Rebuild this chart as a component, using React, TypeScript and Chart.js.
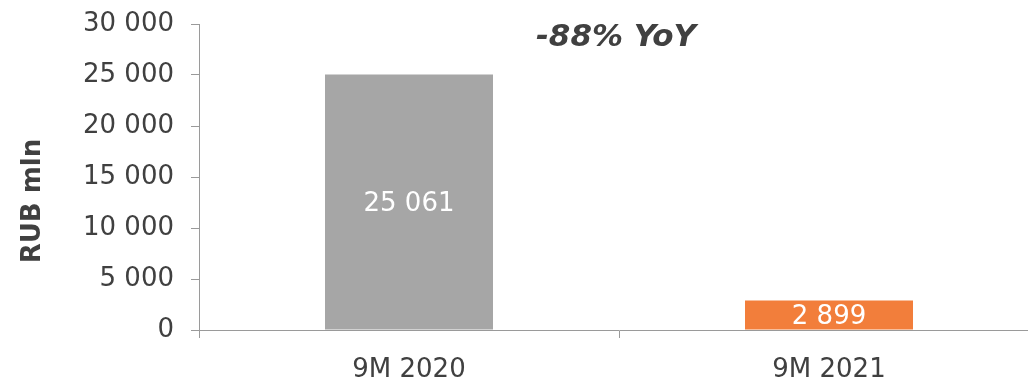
import React, { useEffect, useRef } from "react";
import { Chart, registerables } from "chart.js";

Chart.register(...registerables);

const categories: string[] = ["9M 2020", "9M 2021"];
const values: number[] = [25061, 2899];
const barColors: string[] = ["#a6a6a6", "#f27e3b"];
const yTicks: number[] = [0, 5000, 10000, 15000, 20000, 25000, 30000];
const yAxisTitle = "RUB mln";
const annotationText = "-88% YoY";

const TEXT = "#404040";
const AXIS = "#9a9a9a";
const FONT = "'DejaVu Sans', Verdana, sans-serif";

const fmt = (v: number) => String(v).replace(/\B(?=(\d{3})+(?!\d))/g, " ");

const overlayPlugin = {
  id: "overlay",
  afterDatasetsDraw(chart: any) {
    const ctx = chart.ctx;
    const meta = chart.getDatasetMeta(0);
    ctx.save();
    // data labels
    ctx.fillStyle = "#ffffff";
    ctx.font = `26px ${FONT}`;
    ctx.textAlign = "center";
    ctx.textBaseline = "middle";
    meta.data.forEach((el: any, i: number) => {
      const cy = (el.y + el.base) / 2 + 2;
      ctx.fillText(fmt(values[i]), el.x, cy);
    });
    // annotation
    const xs = chart.scales.x;
    const ca = chart.chartArea;
    const midX = (xs.getPixelForValue(0) + xs.getPixelForValue(1)) / 2 - 3;
    ctx.fillStyle = TEXT;
    ctx.font = `italic bold 31px ${FONT}`;
    ctx.fillText(annotationText, midX, ca.top + 14);
    // y axis title
    ctx.translate(33, (ca.top + ca.bottom) / 2 + 24);
    ctx.rotate(-Math.PI / 2);
    ctx.font = `bold 26px ${FONT}`;
    ctx.fillText(yAxisTitle, 0, 0);
    ctx.restore();
  },
};

export default function App() {
  const ref = useRef<HTMLCanvasElement | null>(null);
  useEffect(() => {
    if (!ref.current) return;
    document.body.style.overflow = "hidden";
    const chart = new Chart(ref.current, {
      type: "bar",
      data: {
        labels: categories,
        datasets: [
          {
            data: values,
            backgroundColor: barColors,
            borderWidth: 0,
            barPercentage: 0.4,
            categoryPercentage: 1,
          },
        ],
      },
      options: {
        animation: false,
        responsive: false,
        layout: { padding: { top: 24, right: 1, left: 0, bottom: 0 } },
        plugins: {
          legend: { display: false },
          tooltip: { enabled: false },
          title: { display: false },
        },
        scales: {
          x: {
            type: "category",
            offset: true,
            grid: {
              display: true,
              drawOnChartArea: false,
              drawTicks: true,
              tickLength: 8,
              color: AXIS,
              offset: true,
            },
            border: { display: true, color: AXIS, width: 1 },
            ticks: {
              color: TEXT,
              font: { family: FONT, size: 26 },
              padding: 17,
              maxRotation: 0,
            },
            afterFit: (scale: any) => {
              scale.height = 49;
              scale.paddingLeft = 0;
              scale.paddingRight = 0;
            },
          },
          y: {
            min: 0,
            max: 30000,
            afterBuildTicks: (scale: any) => {
              scale.ticks = yTicks.map((v) => ({ value: v }));
            },
            grid: {
              display: true,
              drawOnChartArea: false,
              drawTicks: true,
              tickLength: 8,
              color: AXIS,
            },
            border: { display: true, color: AXIS, width: 1 },
            ticks: {
              color: TEXT,
              font: { family: FONT, size: 26 },
              padding: 17,
              callback: (v: any) => fmt(Number(v)),
            },
            afterFit: (scale: any) => {
              scale.width = 199;
              scale.paddingTop = 0;
              scale.paddingBottom = 0;
            },
          },
        },
      },
      plugins: [overlayPlugin],
    });
    return () => chart.destroy();
  }, []);
  return (
    <div style={{ position: "fixed", left: 0, top: 0, width: 1040, height: 379 }}>
      <canvas ref={ref} width={1040} height={379} style={{ display: "block" }} />
    </div>
  );
}
